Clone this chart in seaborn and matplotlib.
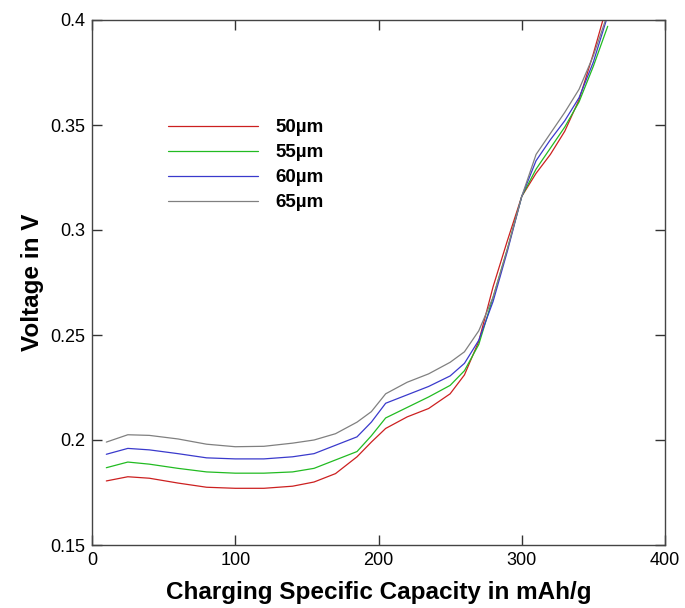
import matplotlib
matplotlib.use("Agg")
import matplotlib.pyplot as plt
import seaborn as sns
import pandas as pd

capacity = [10, 25, 40, 60, 80, 100, 120, 140, 155, 170, 185, 195, 205, 220,
            235, 250, 260, 270, 280, 290, 300, 310, 320, 330, 340, 350, 360]

v_50 = [0.1805, 0.1825, 0.1818, 0.1795, 0.1775, 0.1770, 0.1770, 0.1780, 0.1800,
        0.1840, 0.1920, 0.1990, 0.2055, 0.2110, 0.2150, 0.2220, 0.2310, 0.2470,
        0.2730, 0.2950, 0.3160, 0.3270, 0.3360, 0.3470, 0.3620, 0.3840, 0.4080]
v_55 = [0.1868, 0.1895, 0.1885, 0.1865, 0.1848, 0.1842, 0.1842, 0.1848, 0.1865,
        0.1905, 0.1945, 0.2020, 0.2105, 0.2155, 0.2205, 0.2260, 0.2330, 0.2455,
        0.2680, 0.2910, 0.3160, 0.3290, 0.3390, 0.3490, 0.3610, 0.3780, 0.3970]
v_60 = [0.1932, 0.1960, 0.1953, 0.1935, 0.1915, 0.1910, 0.1910, 0.1920, 0.1935,
        0.1975, 0.2015, 0.2085, 0.2175, 0.2215, 0.2255, 0.2305, 0.2365, 0.2475,
        0.2660, 0.2900, 0.3160, 0.3330, 0.3430, 0.3520, 0.3630, 0.3800, 0.4020]
v_65 = [0.1990, 0.2025, 0.2022, 0.2005, 0.1980, 0.1968, 0.1970, 0.1985, 0.2000,
        0.2030, 0.2085, 0.2135, 0.2220, 0.2275, 0.2315, 0.2370, 0.2420, 0.2520,
        0.2680, 0.2910, 0.3160, 0.3360, 0.3460, 0.3560, 0.3670, 0.3830, 0.4030]

labels = ["50µm", "55µm", "60µm", "65µm"]
colors = ["#cc2020", "#22bb22", "#3a3acc", "#808080"]

x_ticks = [0, 100, 200, 300, 400]
y_ticks = [0.15, 0.2, 0.25, 0.3, 0.35, 0.4]
y_tick_labels = ["0.15", "0.2", "0.25", "0.3", "0.35", "0.4"]

rows = []
for lab, vals in zip(labels, [v_50, v_55, v_60, v_65]):
    for c, v in zip(capacity, vals):
        rows.append({"cap": c, "V": v, "series": lab})
df = pd.DataFrame(rows)

sns.set_style("ticks")
plt.rcParams["font.family"] = ["Liberation Sans", "DejaVu Sans"]
plt.rcParams["text.color"] = "black"
plt.rcParams["axes.labelcolor"] = "black"
plt.rcParams["xtick.color"] = "black"
plt.rcParams["ytick.color"] = "black"

fig = plt.figure(figsize=(6.85, 6.08), dpi=100)
ax = fig.add_axes([92/685, 1-545/608, (665-92)/685, (545-20)/608])

sns.lineplot(data=df, x="cap", y="V", hue="series", palette=dict(zip(labels, colors)),
             hue_order=labels, linewidth=0.9, ax=ax, legend=False, sort=False)

ax.set_xlim(0, 400)
ax.set_ylim(0.15, 0.4)
ax.set_xticks(x_ticks)
ax.set_xticklabels([str(t) for t in x_ticks])
ax.set_yticks(y_ticks)
ax.set_yticklabels(y_tick_labels)
ax.tick_params(direction="in", length=7, width=1, top=True, right=True,
               labelsize=13, color="#333333", labelcolor="black", pad=5)
for s in ax.spines.values():
    s.set_color("#444444")
    s.set_linewidth(1.0)

ax.set_xlabel("Charging Specific Capacity in mAh/g", fontsize=17.5, fontweight="bold",
              labelpad=9, color="black")
ax.set_ylabel("Voltage in V", fontsize=17.5, fontweight="bold", labelpad=4, color="black")

from matplotlib.lines import Line2D
handles = [Line2D([0], [0], color=c, lw=0.9) for c in colors]
leg = fig.legend(handles, labels, loc="upper left", bbox_to_anchor=(168/685, 1-119/608),
                 frameon=False, handlelength=4.8, handletextpad=0.95, labelspacing=0.42,
                 borderpad=0, borderaxespad=0, prop={"weight": "bold", "size": 13.5})
for t in leg.get_texts():
    t.set_color("black")

fig.savefig("out.png", dpi=100)
